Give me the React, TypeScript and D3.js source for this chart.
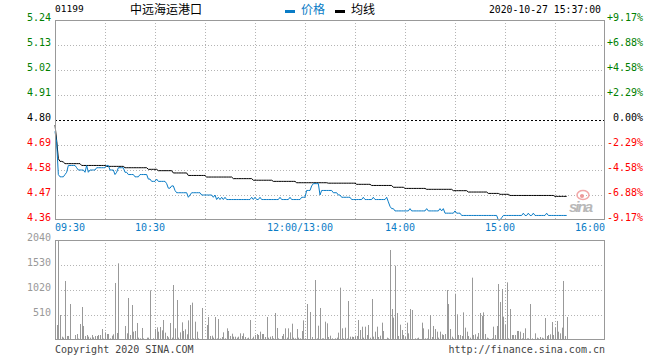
import React from 'react';
import * as d3 from 'd3';

// minute index 0..330 (09:30-12:00 then 13:00-16:00), data runs to 15:37
const price = [
  4.75, 4.70, 4.56, 4.55, 4.55, 4.55, 4.56, 4.57, 4.60, 4.60,
  4.60, 4.60, 4.60, 4.59, 4.58, 4.58, 4.58, 4.58, 4.57, 4.60,
  4.57, 4.58, 4.58, 4.58, 4.58, 4.59, 4.59, 4.59, 4.59, 4.59,
  4.59, 4.60, 4.60, 4.58, 4.58, 4.58, 4.56, 4.57, 4.59, 4.59,
  4.59, 4.59, 4.57, 4.57, 4.56, 4.56, 4.56, 4.56, 4.55, 4.55,
  4.55, 4.56, 4.56, 4.56, 4.56, 4.56, 4.54, 4.54, 4.53, 4.53,
  4.53, 4.54, 4.53, 4.53, 4.53, 4.53, 4.53, 4.52, 4.50, 4.50,
  4.51, 4.51, 4.49, 4.48, 4.48, 4.48, 4.48, 4.48, 4.48, 4.48,
  4.46, 4.47, 4.48, 4.48, 4.48, 4.48, 4.48, 4.48, 4.47, 4.47,
  4.47, 4.47, 4.47, 4.47, 4.47, 4.46, 4.47, 4.45, 4.46, 4.45,
  4.46, 4.45, 4.46, 4.45, 4.45, 4.45, 4.45, 4.45, 4.45, 4.45,
  4.45, 4.45, 4.45, 4.45, 4.45, 4.45, 4.45, 4.45, 4.46, 4.45,
  4.46, 4.45, 4.45, 4.46, 4.45, 4.45, 4.45, 4.45, 4.45, 4.45,
  4.45, 4.45, 4.45, 4.45, 4.45, 4.46, 4.45, 4.45, 4.45, 4.45,
  4.45, 4.46, 4.45, 4.45, 4.45, 4.45, 4.45, 4.45, 4.46, 4.46,
  4.46, 4.49, 4.49, 4.49, 4.51, 4.52, 4.52, 4.52, 4.52, 4.47,
  4.49, 4.49, 4.49, 4.49, 4.49, 4.49, 4.49, 4.48, 4.48, 4.48,
  4.47, 4.47, 4.46, 4.46, 4.46, 4.46, 4.46, 4.46, 4.45, 4.45,
  4.45, 4.45, 4.45, 4.45, 4.45, 4.46, 4.45, 4.45, 4.45, 4.45,
  4.45, 4.46, 4.45, 4.45, 4.45, 4.45, 4.45, 4.45, 4.45, 4.46,
  4.44, 4.42, 4.41, 4.41, 4.40, 4.40, 4.40, 4.40, 4.40, 4.40,
  4.40, 4.40, 4.40, 4.41, 4.40, 4.40, 4.40, 4.40, 4.40, 4.40,
  4.40, 4.40, 4.40, 4.41, 4.40, 4.40, 4.40, 4.40, 4.40, 4.40,
  4.40, 4.41, 4.40, 4.41, 4.39, 4.39, 4.39, 4.39, 4.39, 4.39,
  4.40, 4.39, 4.39, 4.39, 4.38, 4.38, 4.38, 4.38, 4.38, 4.38,
  4.38, 4.38, 4.38, 4.38, 4.38, 4.38, 4.38, 4.38, 4.38, 4.38,
  4.38, 4.38, 4.38, 4.38, 4.38, 4.38, 4.36, 4.36, 4.37, 4.38,
  4.38, 4.38, 4.38, 4.38, 4.38, 4.38, 4.38, 4.38, 4.38, 4.38,
  4.38, 4.39, 4.38, 4.38, 4.39, 4.38, 4.38, 4.39, 4.38, 4.38,
  4.38, 4.38, 4.38, 4.38, 4.38, 4.39, 4.38, 4.38, 4.38, 4.38,
  4.38, 4.38, 4.38, 4.38, 4.38, 4.38, 4.38, 4.38,
];

const avgPrice = [
  4.778, 4.710, 4.630, 4.618, 4.618, 4.615, 4.608, 4.608, 4.608, 4.608,
  4.608, 4.608, 4.608, 4.608, 4.608, 4.608, 4.600, 4.600, 4.600, 4.600,
  4.600, 4.600, 4.600, 4.600, 4.600, 4.600, 4.600, 4.600, 4.600, 4.600,
  4.600, 4.596, 4.596, 4.596, 4.596, 4.596, 4.596, 4.596, 4.596, 4.596,
  4.596, 4.596, 4.590, 4.590, 4.590, 4.590, 4.590, 4.590, 4.590, 4.590,
  4.590, 4.590, 4.590, 4.590, 4.590, 4.590, 4.583, 4.583, 4.583, 4.583,
  4.583, 4.583, 4.577, 4.577, 4.577, 4.577, 4.577, 4.577, 4.577, 4.577,
  4.577, 4.567, 4.567, 4.567, 4.567, 4.567, 4.567, 4.567, 4.567, 4.567,
  4.556, 4.556, 4.556, 4.556, 4.556, 4.556, 4.556, 4.556, 4.556, 4.556,
  4.556, 4.549, 4.549, 4.549, 4.549, 4.549, 4.549, 4.549, 4.549, 4.549,
  4.549, 4.549, 4.549, 4.549, 4.549, 4.549, 4.549, 4.542, 4.542, 4.542,
  4.542, 4.542, 4.542, 4.542, 4.542, 4.542, 4.542, 4.542, 4.542, 4.535,
  4.535, 4.535, 4.535, 4.535, 4.535, 4.535, 4.535, 4.535, 4.535, 4.535,
  4.535, 4.530, 4.530, 4.530, 4.530, 4.530, 4.530, 4.530, 4.530, 4.530,
  4.530, 4.530, 4.530, 4.530, 4.530, 4.524, 4.524, 4.524, 4.524, 4.524,
  4.524, 4.524, 4.524, 4.524, 4.524, 4.524, 4.524, 4.524, 4.524, 4.524,
  4.524, 4.524, 4.524, 4.524, 4.522, 4.522, 4.522, 4.522, 4.522, 4.522,
  4.522, 4.522, 4.522, 4.522, 4.522, 4.522, 4.522, 4.522, 4.522, 4.522,
  4.522, 4.517, 4.517, 4.517, 4.517, 4.517, 4.517, 4.517, 4.517, 4.517,
  4.512, 4.512, 4.512, 4.512, 4.512, 4.512, 4.512, 4.512, 4.512, 4.512,
  4.512, 4.512, 4.512, 4.504, 4.504, 4.504, 4.504, 4.504, 4.504, 4.504,
  4.499, 4.499, 4.499, 4.499, 4.499, 4.499, 4.499, 4.499, 4.499, 4.499,
  4.499, 4.499, 4.499, 4.495, 4.495, 4.495, 4.495, 4.495, 4.495, 4.495,
  4.495, 4.495, 4.495, 4.495, 4.495, 4.495, 4.495, 4.495, 4.495, 4.489,
  4.489, 4.489, 4.489, 4.489, 4.489, 4.489, 4.489, 4.489, 4.483, 4.483,
  4.483, 4.483, 4.483, 4.483, 4.483, 4.483, 4.483, 4.483, 4.483, 4.483,
  4.477, 4.477, 4.477, 4.477, 4.477, 4.477, 4.477, 4.473, 4.473, 4.473,
  4.473, 4.473, 4.473, 4.468, 4.468, 4.468, 4.468, 4.468, 4.468, 4.468,
  4.468, 4.468, 4.468, 4.468, 4.468, 4.468, 4.468, 4.468, 4.468, 4.468,
  4.468, 4.468, 4.468, 4.468, 4.468, 4.468, 4.468, 4.468, 4.468, 4.468,
  4.464, 4.464, 4.464, 4.464, 4.464, 4.464, 4.464, 4.464,
];

const volume = [
  300, 306, 2040, 510, 68, 48, 1204, 82, 82, 734,
  20, 20, 102, 122, 30, 326, 673, 286, 82, 102,
  68, 48, 102, 54, 82, 82, 102, 102, 224, 30,
  156, 122, 122, 34, 88, 116, 1163, 143, 1564, 20,
  20, 20, 286, 136, 857, 102, 714, 170, 184, 347,
  48, 34, 245, 34, 20, 48, 48, 1013, 20, 34,
  224, 258, 170, 265, 197, 408, 150, 82, 54, 347,
  48, 1122, 238, 816, 48, 156, 360, 184, 218, 116,
  401, 714, 762, 34, 374, 170, 34, 20, 653, 10,
  20, 306, 469, 82, 88, 48, 469, 34, 428, 34,
  61, 156, 34, 238, 184, 82, 129, 68, 68, 48,
  68, 136, 82, 136, 61, 34, 48, 408, 34, 68,
  102, 122, 102, 170, 122, 122, 61, 469, 48, 68,
  82, 34, 551, 245, 34, 20, 82, 122, 238, 48,
  238, 156, 333, 48, 34, 224, 48, 34, 184, 401,
  34, 734, 10, 571, 61, 20, 1224, 34, 292, 653,
  34, 34, 374, 340, 60, 88, 34, 14, 34, 48,
  150, 1068, 238, 34, 252, 34, 796, 68, 68, 61,
  88, 82, 408, 204, 272, 48, 272, 102, 306, 48,
  836, 68, 170, 272, 61, 88, 354, 184, 20, 48,
  34, 1836, 632, 456, 1516, 551, 82, 313, 204, 102,
  68, 354, 136, 632, 612, 14, 34, 34, 48, 20,
  354, 238, 34, 34, 218, 510, 61, 286, 224, 170,
  48, 170, 116, 102, 122, 1020, 734, 224, 68, 34,
  945, 524, 102, 102, 82, 564, 252, 170, 82, 48,
  1272, 102, 116, 68, 143, 551, 490, 564, 122, 48,
  34, 14, 34, 272, 102, 286, 1142, 775, 1040, 476,
  306, 1176, 34, 632, 102, 102, 102, 184, 184, 170,
  34, 143, 238, 34, 34, 734, 34, 20, 136, 48,
  34, 61, 48, 34, 449, 82, 102, 116, 367, 102,
  252, 388, 170, 136, 252, 1204, 82, 469,
];

const prevClose = 4.80;
const priceTicks = [5.24, 5.13, 5.02, 4.91, 4.80, 4.69, 4.58, 4.47, 4.36];
const pctLabels = ['+9.17%', '+6.88%', '+4.58%', '+2.29%', '0.00%', '-2.29%', '-4.58%', '-6.88%', '-9.17%'];
const volTicks = [2040, 1530, 1020, 510];
const timeTicks = [0, 60, 150, 210, 270, 330];
const timeLabels = ['09:30', '10:30', '12:00/13:00', '14:00', '15:00', '16:00'];
const gridMinutes = [30, 60, 90, 120, 150, 180, 210, 240, 270, 300];

const mono = '"DejaVu Sans Mono", monospace';
const cjk = '"Noto Sans CJK SC", sans-serif';
const blue = '#0a7cc6';

export default function App() {
  const left = 55, right = 605;
  const x = d3.scaleLinear().domain([0, 330]).range([left, right]);
  const yP = d3.scaleLinear().domain([4.36, 5.24]).range([220, 20]);
  const yV = d3.scaleLinear().domain([0, 2040]).range([340, 240]);

  const line = d3.line<number>().x((d, i) => x(i)).y(d => yP(d));

  const tickColor = (v: number) => (v > prevClose ? '#008000' : v < prevClose ? '#ff0000' : '#000');

  return (
    <svg width={660} height={360} style={{ position: 'absolute', left: 0, top: 0, background: '#fff' }}>
      {/* header */}
      <text x={55} y={12} fontFamily={mono} fontSize={9.5} fill="#000">01199</text>
      <text x={130} y={14} fontFamily={cjk} fontSize={12} fill="#000">中远海运港口</text>
      <rect x={285} y={10} width={10} height={3} fill={blue} />
      <text x={301} y={14} fontFamily={cjk} fontSize={12} fill={blue}>价格</text>
      <rect x={335} y={10} width={10} height={3} fill="#000" />
      <text x={351} y={14} fontFamily={cjk} fontSize={12} fill="#000">均线</text>
      <text x={601} y={13} textAnchor="end" fontFamily={mono} fontSize={9.8} fill="#000">2020-10-27 15:37:00</text>

      {/* grid */}
      <g stroke="#b4b4b4" strokeDasharray="1,2">
        {priceTicks.slice(1, -1).filter(v => v !== prevClose).map(v => (
          <line key={v} x1={left} x2={right} y1={Math.round(yP(v)) + 0.5} y2={Math.round(yP(v)) + 0.5} />
        ))}
        {gridMinutes.map(m => (
          <line key={m} x1={Math.round(x(m)) + 0.5} x2={Math.round(x(m)) + 0.5} y1={20} y2={220} />
        ))}
        {volTicks.slice(1).map(v => (
          <line key={'v' + v} x1={left} x2={right} y1={Math.round(yV(v)) + 0.5} y2={Math.round(yV(v)) + 0.5} />
        ))}
        {gridMinutes.map(m => (
          <line key={'vm' + m} x1={Math.round(x(m)) + 0.5} x2={Math.round(x(m)) + 0.5} y1={240} y2={340} />
        ))}
      </g>
      <line x1={left} x2={right} y1={Math.round(yP(prevClose)) + 0.5} y2={Math.round(yP(prevClose)) + 0.5}
        stroke="#000" strokeDasharray="2,2" />

      {/* volume bars */}
      <g fill="#999">
        {volume.map((v, i) => (
          <rect key={i} x={Math.round(x(i))} y={yV(v)} width={1} height={340 - yV(v)} />
        ))}
      </g>

      {/* sina watermark */}
      <g>
        <ellipse cx={583} cy={195} rx={6} ry={4.5} fill="none" stroke="#f2a8a8" strokeWidth={1.5} />
        <circle cx={582} cy={196} r={2} fill="#ee9a9a" />
        <text x={569} y={211.5} fontFamily="Arial, 'Liberation Sans', sans-serif" fontStyle="italic" fontWeight="bold"
          fontSize={15} fill="#b8b8b8" textLength={24}>sina</text>
      </g>

      {/* lines */}
      <path d={line(avgPrice) || ''} fill="none" stroke="#000" strokeWidth={1} />
      <path d={line(price) || ''} fill="none" stroke={blue} strokeWidth={1} />

      {/* borders */}
      <g fill="none" stroke="#999">
        <rect x={left + 0.5} y={20.5} width={right - left - 1} height={199} />
        <rect x={left + 0.5} y={240.5} width={right - left - 1} height={99} />
      </g>

      {/* axis labels */}
      <g fontFamily={mono} fontSize={10}>
        {priceTicks.map(v => (
          <text key={v} x={51} y={yP(v) + 1} textAnchor="end" fill={tickColor(v)}>{v.toFixed(2)}</text>
        ))}
        {priceTicks.map((v, i) => (
          <text key={'p' + v} x={643} y={yP(v) + 1} textAnchor="end" fill={tickColor(v)}>{pctLabels[i]}</text>
        ))}
        {timeTicks.map((m, i) => (
          <text key={m} x={i === 0 ? left : i === timeTicks.length - 1 ? right : x(m) - 5} y={231}
            textAnchor={i === 0 ? 'start' : i === timeTicks.length - 1 ? 'end' : 'middle'} fill={blue}>
            {timeLabels[i]}
          </text>
        ))}
        {volTicks.map(v => (
          <text key={'vt' + v} x={51} y={yV(v) + 1} textAnchor="end" fill="#999">{v}</text>
        ))}
        <text x={55} y={353} fill="#444">Copyright 2020 SINA.COM</text>
        <text x={605} y={353} textAnchor="end" fill="#444">http://finance.sina.com.cn</text>
      </g>
    </svg>
  );
}
